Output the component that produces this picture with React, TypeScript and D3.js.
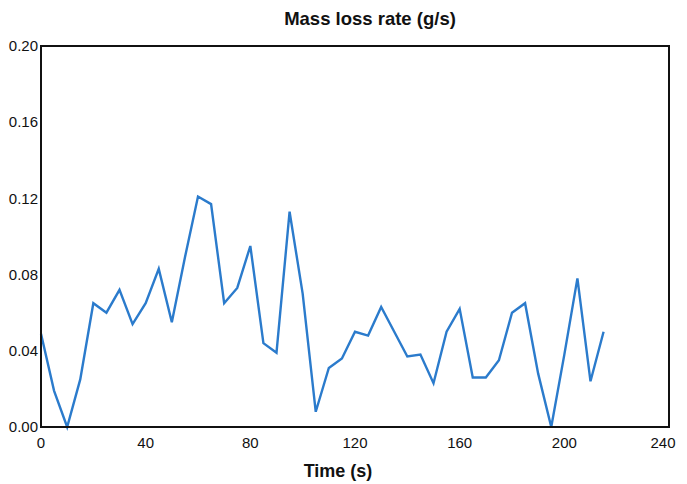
import React from "react";
import * as d3 from "d3";

const times = [0, 5, 10, 15, 20, 25, 30, 35, 40, 45, 50, 55, 60, 65, 70, 75, 80, 85, 90, 95, 100, 105, 110, 115, 120, 125, 130, 135, 140, 145, 150, 155, 160, 165, 170, 175, 180, 185, 190, 195, 200, 205, 210, 215];
const massLoss = [0.049, 0.019, 0.0, 0.025, 0.065, 0.06, 0.072, 0.054, 0.065, 0.083, 0.055, 0.089, 0.121, 0.117, 0.065, 0.073, 0.095, 0.044, 0.039, 0.113, 0.07, 0.008, 0.031, 0.036, 0.05, 0.048, 0.063, 0.05, 0.037, 0.038, 0.023, 0.05, 0.062, 0.026, 0.026, 0.035, 0.06, 0.065, 0.028, 0.0, 0.038, 0.078, 0.024, 0.05];
const xTicks = [0, 40, 80, 120, 160, 200, 240];
const yTicks = [0, 0.04, 0.08, 0.12, 0.16, 0.2];
const title = "Mass loss rate (g/s)";
const xLabel = "Time (s)";

export default function App() {
  const W = 687, H = 484;
  const left = 41, right = 669, top = 46, bottom = 427;
  const x = d3.scaleLinear().domain([0, 240]).range([left, right]);
  const y = d3.scaleLinear().domain([0, 0.2]).range([bottom, top]);
  const line = d3.line<number>().x((_, i) => x(times[i])).y((d) => y(d));
  const font = "'Liberation Sans', Arial, sans-serif";
  return (
    <svg width={W} height={H} style={{ position: "absolute", left: 0, top: 0, background: "#fff" }} fontFamily={font}>
      <rect x={0} y={0} width={W} height={H} fill="#fff" />
      <text x={370} y={25} textAnchor="middle" fontSize={18.5} fontWeight="bold" fill="#111">{title}</text>
      <path d={line(massLoss) || ""} fill="none" stroke="#2b7bcc" strokeWidth={2.4} strokeLinejoin="miter" />
      <rect x={left} y={top} width={right - left} height={bottom - top} fill="none" stroke="#111" strokeWidth={2} />
      {yTicks.map((t) => (
        <text key={t} x={left - 3} y={y(t)} dy="0.35em" textAnchor="end" fontSize={15} fill="#111">{t.toFixed(2)}</text>
      ))}
      {xTicks.map((t) => (
        <text key={t} x={x(t) - (t === 240 ? 6 : 0)} y={bottom + 21} textAnchor="middle" fontSize={15} fill="#111">{t}</text>
      ))}
      <text x={338} y={477} textAnchor="middle" fontSize={18} fontWeight="bold" fill="#111">{xLabel}</text>
    </svg>
  );
}
